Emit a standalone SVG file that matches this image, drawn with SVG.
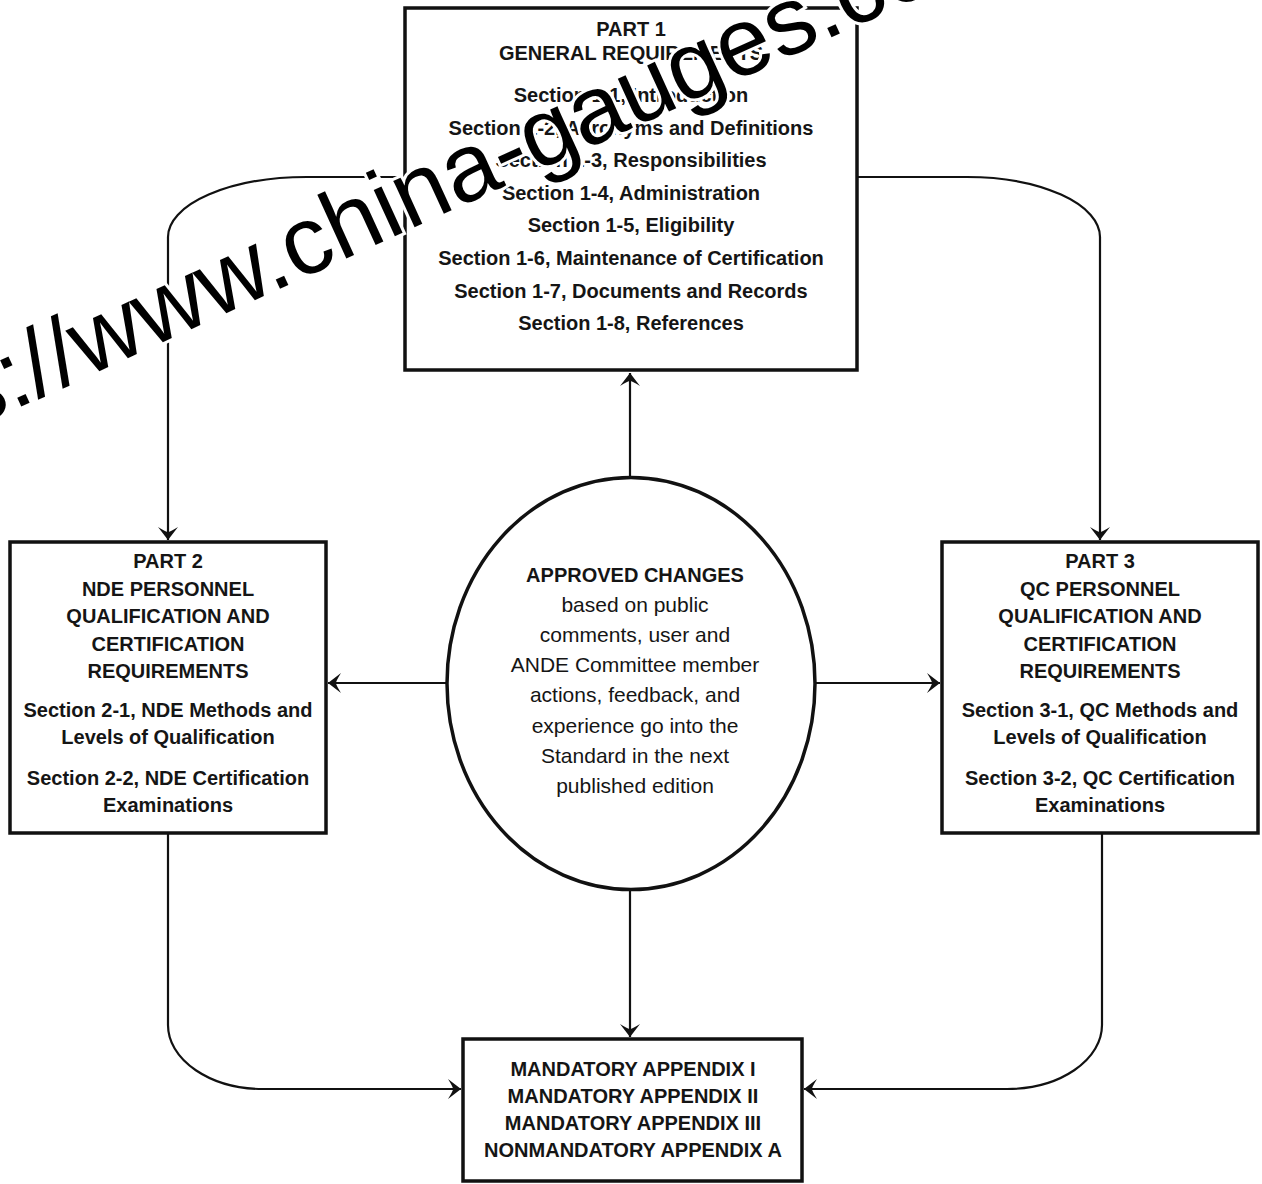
<svg xmlns="http://www.w3.org/2000/svg" width="1262" height="1184" viewBox="0 0 1262 1184">
<style>
.box{fill:#fff;stroke:#111;stroke-width:3.5}
.conn{fill:none;stroke:#111;stroke-width:2.2}
.b{font-family:"Liberation Sans",Arial,sans-serif;font-weight:bold;font-size:20px;fill:#151515;text-anchor:middle}
.r{font-family:"Liberation Sans",Arial,sans-serif;font-size:21px;fill:#151515;text-anchor:middle}
.wm{font-family:"Liberation Sans",Arial,sans-serif;font-size:96.5px;fill:#000;stroke:#fff;stroke-width:6;paint-order:stroke}
</style>
<defs>
<marker id="arr" viewBox="-14 -12 16 24" markerWidth="16" markerHeight="24" refX="0" refY="0" orient="auto" markerUnits="userSpaceOnUse">
<path d="M0,0 L-13,-10 Q-8,-2 -8,0 Q-8,2 -13,10 Z" fill="#111"/>
</marker>
</defs>
<rect width="1262" height="1184" fill="#fff"/>
<g id="connectors">
<path class="conn" d="M405,177 H307 A139,60 0 0 0 168,237 V540" marker-end="url(#arr)"/>
<path class="conn" d="M857,177 H967 A133,60 0 0 1 1100,237 V540" marker-end="url(#arr)"/>
<path class="conn" d="M168,834 V1025 A95,64 0 0 0 263,1089 H461" marker-end="url(#arr)"/>
<path class="conn" d="M1102,834 V1025 A95,64 0 0 1 1007,1089 H804" marker-end="url(#arr)"/>
<path class="conn" d="M630,477 V373" marker-end="url(#arr)"/>
<path class="conn" d="M447,683 H328" marker-end="url(#arr)"/>
<path class="conn" d="M815,683 H940" marker-end="url(#arr)"/>
<path class="conn" d="M630,890 V1037" marker-end="url(#arr)"/>
</g>
<g id="part1">
<rect class="box" x="405" y="8" width="452" height="362"/>
<text class="b" x="631" y="36">PART 1</text>
<text class="b" x="631" y="60">GENERAL REQUIREMENTS</text>
<text class="b" x="631" y="102">Section 1-1, Introduction</text>
<text class="b" x="631" y="134.6">Section 1-2, Acronyms and Definitions</text>
<text class="b" x="631" y="167.2">Section 1-3, Responsibilities</text>
<text class="b" x="631" y="199.8">Section 1-4, Administration</text>
<text class="b" x="631" y="232.4">Section 1-5, Eligibility</text>
<text class="b" x="631" y="265">Section 1-6, Maintenance of Certification</text>
<text class="b" x="631" y="297.6">Section 1-7, Documents and Records</text>
<text class="b" x="631" y="330.2">Section 1-8, References</text>
</g>
<g id="part2">
<rect class="box" x="10" y="542" width="316" height="291"/>
<text class="b" x="168" y="568">PART 2</text>
<text class="b" x="168" y="596">NDE PERSONNEL</text>
<text class="b" x="168" y="623">QUALIFICATION AND</text>
<text class="b" x="168" y="651">CERTIFICATION</text>
<text class="b" x="168" y="678">REQUIREMENTS</text>
<text class="b" x="168" y="717">Section 2-1, NDE Methods and</text>
<text class="b" x="168" y="744">Levels of Qualification</text>
<text class="b" x="168" y="785">Section 2-2, NDE Certification</text>
<text class="b" x="168" y="812">Examinations</text>
</g>
<g id="part3">
<rect class="box" x="942" y="542" width="316" height="291"/>
<text class="b" x="1100" y="568">PART 3</text>
<text class="b" x="1100" y="596">QC PERSONNEL</text>
<text class="b" x="1100" y="623">QUALIFICATION AND</text>
<text class="b" x="1100" y="651">CERTIFICATION</text>
<text class="b" x="1100" y="678">REQUIREMENTS</text>
<text class="b" x="1100" y="717">Section 3-1, QC Methods and</text>
<text class="b" x="1100" y="744">Levels of Qualification</text>
<text class="b" x="1100" y="785">Section 3-2, QC Certification</text>
<text class="b" x="1100" y="812">Examinations</text>
</g>
<g id="changes">
<ellipse class="box" cx="631" cy="683.5" rx="184" ry="206"/>
<text class="b" x="635" y="582">APPROVED CHANGES</text>
<text class="r" x="635" y="612">based on public</text>
<text class="r" x="635" y="642">comments, user and</text>
<text class="r" x="635" y="672">ANDE Committee member</text>
<text class="r" x="635" y="702">actions, feedback, and</text>
<text class="r" x="635" y="733">experience go into the</text>
<text class="r" x="635" y="763">Standard in the next</text>
<text class="r" x="635" y="793">published edition</text>
</g>
<g id="appendices">
<rect class="box" x="463" y="1039" width="339" height="142"/>
<text class="b" x="633" y="1076">MANDATORY APPENDIX I</text>
<text class="b" x="633" y="1103">MANDATORY APPENDIX II</text>
<text class="b" x="633" y="1130">MANDATORY APPENDIX III</text>
<text class="b" x="633" y="1157">NONMANDATORY APPENDIX A</text>
</g>
<text class="wm" transform="translate(-177,497) rotate(-24.5)">https://www.china-gauges.com</text>
</svg>
